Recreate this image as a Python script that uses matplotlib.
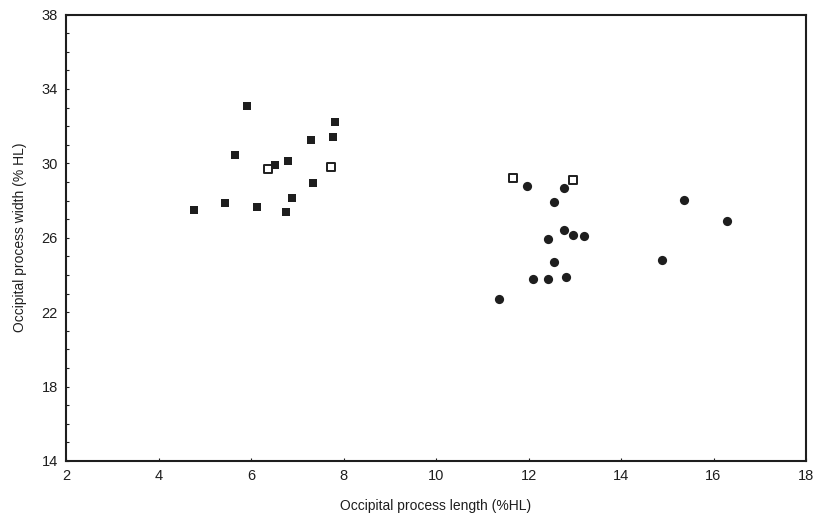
import matplotlib
matplotlib.use("Agg")
import matplotlib.pyplot as plt

plt.rcParams['font.family'] = ['Liberation Sans', 'DejaVu Sans']

# Filled squares (left group)
sq_x = [4.76, 5.44, 5.65, 5.91, 6.12, 6.52, 6.79, 6.75, 6.88, 7.29, 7.33, 7.77, 7.82]
sq_y = [27.47, 27.85, 30.44, 33.07, 27.63, 29.93, 30.12, 27.38, 28.12, 31.28, 28.94, 31.41, 32.21]

# Open squares
osq_x = [6.37, 7.73, 11.66, 12.97]
osq_y = [29.70, 29.78, 29.21, 29.10]

# Filled circles (right group)
ci_x = [11.96, 12.76, 12.55, 12.77, 12.97, 13.19, 12.42, 12.55, 12.09, 12.43, 12.81, 11.37, 15.36, 16.29, 14.88]
ci_y = [28.78, 28.65, 27.94, 26.42, 26.15, 26.09, 25.92, 24.67, 23.77, 23.79, 23.89, 22.73, 28.03, 26.90, 24.79]

x_ticks = [2, 4, 6, 8, 10, 12, 14, 16, 18]
y_ticks = [14, 18, 22, 26, 30, 34, 38]

fig = plt.figure(figsize=(8.16, 5.2), dpi=100)
ax = fig.add_axes([66/816, 1-461/520, (806-66)/816, (461-14.5)/520])

ink = '#1e1e1e'
ax.scatter(sq_x, sq_y, marker='s', s=40, color=ink, linewidths=0, zorder=3)
ax.scatter(ci_x, ci_y, marker='o', s=44, color=ink, linewidths=0, zorder=3)
ax.scatter(osq_x, osq_y, marker='s', s=34, facecolors='white', edgecolors=ink, linewidths=1.4, zorder=3)

ax.set_xlim(2, 18)
ax.set_ylim(14, 38)
ax.set_xticks(x_ticks)
ax.set_yticks(y_ticks)
ax.set_yticks([y for y in range(15, 38)], minor=True)
ax.tick_params(axis='both', direction='in', length=2, width=0.8, labelsize=10.5, colors=ink, pad=6)
ax.tick_params(axis='y', which='minor', direction='in', length=2, width=0.8, colors=ink)
for s in ax.spines.values():
    s.set_color(ink)
    s.set_linewidth(1.5)

ax.set_xlabel('Occipital process length (%HL)', fontsize=10, color=ink, labelpad=11)
ax.set_ylabel('Occipital process width (% HL)', fontsize=10, color=ink, labelpad=10)

fig.savefig('out.png', dpi=100)
